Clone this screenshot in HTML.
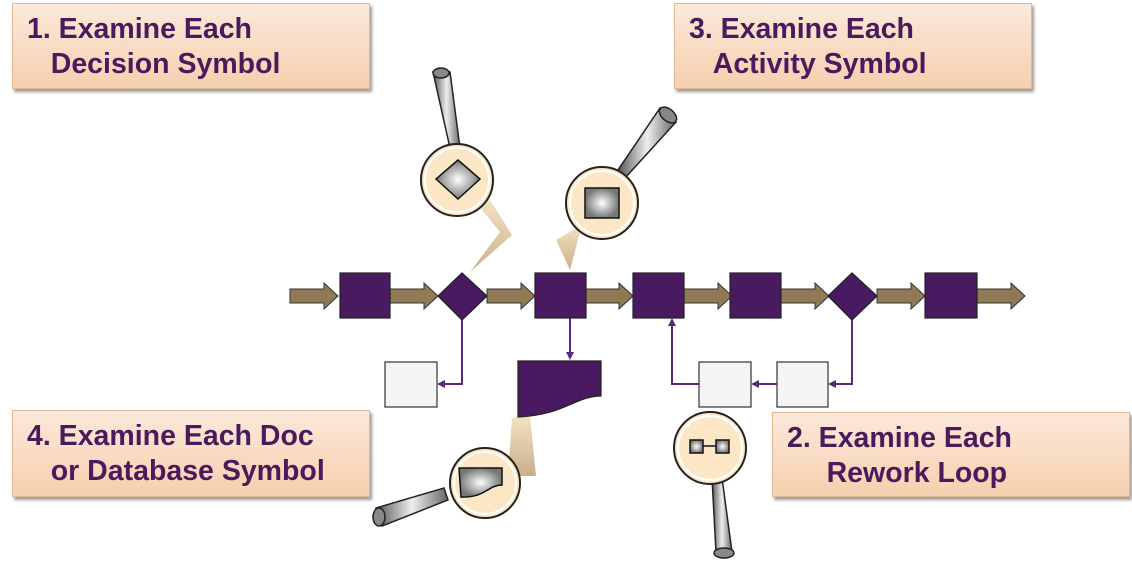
<!DOCTYPE html>
<html><head><style>
body{margin:0;background:#fff;width:1132px;height:565px;overflow:hidden;position:relative;font-family:"Liberation Sans",sans-serif}
.lb{position:absolute;background:linear-gradient(#fbe9da,#f6cfae);border:1px solid #e0b893;box-shadow:2px 3px 3px #999;color:#4a1a5c;font-weight:bold;font-size:28.5px;line-height:35px;box-sizing:border-box;padding:8px 0 0 14px;white-space:nowrap}
</style></head><body>
<div class="lb" style="left:12px;top:3px;width:358px;height:86px">1. Examine Each<br>&nbsp;&nbsp;&nbsp;Decision Symbol</div>
<div class="lb" style="left:674px;top:3px;width:358px;height:86px">3. Examine Each<br>&nbsp;&nbsp;&nbsp;Activity Symbol</div>
<div class="lb" style="left:12px;top:410px;width:358px;height:87px">4. Examine Each Doc<br>&nbsp;&nbsp;&nbsp;or Database Symbol</div>
<div class="lb" style="left:772px;top:412px;width:358px;height:85px">2. Examine Each<br>&nbsp;&nbsp;&nbsp;&nbsp;&nbsp;Rework Loop</div>
<svg width="1132" height="565" style="position:absolute;left:0;top:0">
<defs>
<radialGradient id="g"><stop offset="0" stop-color="#fff"/><stop offset="1" stop-color="#777"/></radialGradient>
<linearGradient id="h" x1="0" x2="1"><stop offset="0" stop-color="#555"/><stop offset=".5" stop-color="#eee"/><stop offset="1" stop-color="#666"/></linearGradient>
<linearGradient id="w" x1="0" y1="0" x2="0" y2="1"><stop offset="0" stop-color="#f3e2c4"/><stop offset="1" stop-color="#c9b08a"/></linearGradient>
<g id="ar"><polygon points="0,-7 34,-7 34,-13 48,0 34,13 34,7 0,7" fill="#8f7a55" stroke="#333" stroke-width="1"/></g>
</defs>
<polygon points="490,200 512,235 470,272 500,232 478,205" fill="url(#w)"/>
<polygon points="582,225 570,270 556,240" fill="url(#w)"/>
<polygon points="512,418 530,415 536,476 508,476" fill="url(#w)"/>
<polygon points="700,415 706,418 695,440 688,440" fill="url(#w)"/>
<use href="#ar" x="290" y="296"/><use href="#ar" x="390" y="296"/><use href="#ar" x="487" y="296"/>
<use href="#ar" x="585" y="296"/><use href="#ar" x="684" y="296"/><use href="#ar" x="781" y="296"/>
<use href="#ar" x="877" y="296"/><use href="#ar" x="977" y="296"/>
<g fill="#4a1a60" stroke="#222" stroke-width="1.2">
<rect x="340" y="273" width="50" height="45"/>
<polygon points="462,273 487,296 462,320 438,296"/>
<rect x="535" y="273" width="51" height="45"/>
<rect x="633" y="273" width="51" height="45"/>
<rect x="730" y="273" width="51" height="45"/>
<polygon points="852,273 877,296 852,320 828,296"/>
<rect x="925" y="273" width="52" height="45"/>
<path d="M518,361 H601 V396 C575,396 565,415 518,417 Z"/>
</g>
<g fill="#f5f5f5" stroke="#333" stroke-width="1.2">
<rect x="385" y="362" width="52" height="45"/>
<rect x="699" y="362" width="52" height="45"/>
<rect x="777" y="362" width="51" height="45"/>
</g>
<g fill="none" stroke="#5a2a78" stroke-width="2">
<path d="M462,320 V384 H440"/>
<path d="M570,318 V356"/>
<path d="M852,320 V384 H831"/>
<path d="M777,384 H754"/>
<path d="M699,384 H672 V323"/>
</g>
<g fill="#5a2a78">
<polygon points="437,384 445,380 445,388"/>
<polygon points="570,360 566,352 574,352"/>
<polygon points="828,384 836,380 836,388"/>
<polygon points="751,384 759,380 759,388"/>
<polygon points="672,318 668,326 676,326"/>
</g>
<g stroke="#222" stroke-width="1.5">
<polygon points="433,72 450,72 460,148 450,148" fill="url(#h)"/><ellipse cx="441" cy="73" rx="8" ry="5" fill="#888"/>
<polygon points="660,108 676,122 625,178 618,170" fill="url(#h)"/><ellipse cx="668" cy="115" rx="10" ry="6" transform="rotate(40 668 115)" fill="#888"/>
<polygon points="376,508 382,526 448,500 444,488" fill="url(#h)"/><ellipse cx="379" cy="517" rx="6" ry="9" fill="#888"/>
<polygon points="712,478 722,478 732,552 716,552" fill="url(#h)"/><ellipse cx="724" cy="553" rx="10" ry="5" fill="#888"/>
</g>
<g stroke="#222" stroke-width="2" fill="#fbe7c6">
<circle cx="457" cy="180" r="36"/><circle cx="602" cy="203" r="36"/>
<circle cx="485" cy="483" r="35"/><circle cx="710" cy="448" r="36"/>
</g>
<g fill="none" stroke="#fff" stroke-width="2">
<circle cx="457" cy="180" r="32"/><circle cx="602" cy="203" r="32"/>
<circle cx="485" cy="483" r="31"/><circle cx="710" cy="448" r="32"/>
</g>
<g stroke="#111" stroke-width="1.5" fill="url(#g)">
<polygon points="458,160 480,179 458,199 436,179"/>
<rect x="585" y="188" width="34" height="30"/>
<path d="M459,468 H502 V485 C488,485 485,498 461,497 Z"/>
<rect x="690" y="440" width="13" height="13"/><rect x="716" y="440" width="13" height="13"/>
</g>
<line x1="703" y1="446" x2="716" y2="446" stroke="#111" stroke-width="1.5"/>
</svg>
</body></html>
